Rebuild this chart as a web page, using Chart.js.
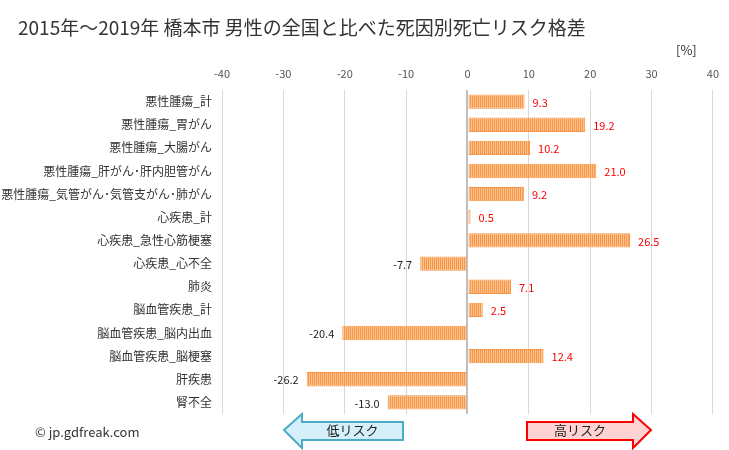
<!DOCTYPE html>
<html><head><meta charset="utf-8">
<script src="https://cdn.jsdelivr.net/npm/chart.js@4"></script>
<style>html,body{margin:0;padding:0;background:#fff}#wrap{width:729px;height:450px;position:relative}</style>
</head><body><div id="wrap"><canvas id="c" width="729" height="450"></canvas></div>
<script>
const categories = ["悪性腫瘍_計","悪性腫瘍_胃がん","悪性腫瘍_大腸がん","悪性腫瘍_肝がん･肝内胆管がん","悪性腫瘍_気管がん･気管支がん･肺がん","心疾患_計","心疾患_急性心筋梗塞","心疾患_心不全","肺炎","脳血管疾患_計","脳血管疾患_脳内出血","脳血管疾患_脳梗塞","肝疾患","腎不全"];
const values = [9.3,19.2,10.2,21.0,9.2,0.5,26.5,-7.7,7.1,2.5,-20.4,12.4,-26.2,-13.0];
const xTicks = [-40,-30,-20,-10,0,10,20,30,40];
const titleText = "2015年～2019年 橋本市 男性の全国と比べた死因別死亡リスク格差";
const FONT = '"Noto Sans CJK JP", "Noto Sans", sans-serif';

const pc = document.createElement('canvas'); pc.width = 2; pc.height = 4;
const pctx = pc.getContext('2d');
pctx.fillStyle = '#f79646'; pctx.fillRect(0,0,1,4);
pctx.fillStyle = '#fcc391'; pctx.fillRect(1,0,1,4);
const ctx0 = document.getElementById('c').getContext('2d');
const pattern = ctx0.createPattern(pc,'repeat');

function arrow(ctx, dir, x0, x1, headX, tipX, text, fill, stroke){
  const yc=430, bt=422, bb=440, ht=414, hb=448;
  ctx.save();
  ctx.beginPath();
  if(dir<0){
    ctx.moveTo(tipX,yc); ctx.lineTo(headX,ht); ctx.lineTo(headX,bt); ctx.lineTo(x1,bt); ctx.lineTo(x1,bb); ctx.lineTo(headX,bb); ctx.lineTo(headX,hb); ctx.closePath();
  } else {
    ctx.moveTo(tipX,yc); ctx.lineTo(headX,ht); ctx.lineTo(headX,bt); ctx.lineTo(x0,bt); ctx.lineTo(x0,bb); ctx.lineTo(headX,bb); ctx.lineTo(headX,hb); ctx.closePath();
  }
  ctx.fillStyle=fill; ctx.fill(); ctx.lineWidth=2; ctx.strokeStyle=stroke; ctx.stroke();
  ctx.fillStyle='#222'; ctx.font='13px '+FONT; ctx.textAlign='center'; ctx.textBaseline='middle';
  ctx.fillText(text, dir<0 ? (headX+x1)/2 : (x0+headX)/2, yc);
  ctx.restore();
}

const deco = {
  id:'deco',
  afterDatasetsDraw(chart){
    const ctx=chart.ctx, xs=chart.scales.x, ys=chart.scales.y;
    ctx.save();
    ctx.font='11px '+FONT; ctx.textBaseline='middle';
    values.forEach((v,i)=>{
      const y=ys.getPixelForValue(i), x=xs.getPixelForValue(v);
      const s=v.toFixed(1);
      if(v>=0){ctx.fillStyle='#ff0000'; ctx.textAlign='left'; ctx.fillText(s,x+8,y+1);}
      else {ctx.fillStyle='#222'; ctx.textAlign='right'; ctx.fillText(s,x-8,y+1);}
    });
    ctx.fillStyle='#333'; ctx.textAlign='left'; ctx.textBaseline='middle';
    ctx.font='19px '+FONT; ctx.fillText(titleText,18,28);
    ctx.font='13px '+FONT; ctx.fillText('[%]',676,50);
    ctx.font='13px '+FONT; ctx.fillText('© jp.gdfreak.com',35,432);
    ctx.restore();
    arrow(ctx,-1,0,403,302,284,'低リスク','#d5f0fa','#4bacc6');
    arrow(ctx,1,527,0,633,651,'高リスク','#ffd3d3','#ff0000');
  }
};

new Chart(ctx0,{
  type:'bar',
  data:{labels:categories,datasets:[{data:values,backgroundColor:pattern,borderColor:'#f79646',borderWidth:1,barPercentage:0.62,categoryPercentage:1}]},
  options:{
    indexAxis:'y',responsive:false,animation:false,
    layout:{padding:{left:0,right:16,top:0,bottom:36}},
    plugins:{legend:{display:false},tooltip:{enabled:false}},
    scales:{
      x:{position:'top',min:-40,max:40,
        afterFit(s){s.height=90;},
        afterBuildTicks(s){s.ticks=xTicks.map(v=>({value:v}));},
        ticks:{font:{family:FONT,size:11},color:'#555',padding:10},
        grid:{drawTicks:false,color:c=>c.tick&&c.tick.value===0?'#bfbfbf':'#d9d9d9',lineWidth:c=>c.tick&&c.tick.value===0?2:1},
        border:{display:false}},
      y:{afterFit(s){s.width=222;},
        ticks:{font:{family:FONT,size:12},color:'#333',padding:10},
        grid:{display:false,drawTicks:false},border:{display:false}}
    }
  },
  plugins:[deco]
});
</script></body></html>
